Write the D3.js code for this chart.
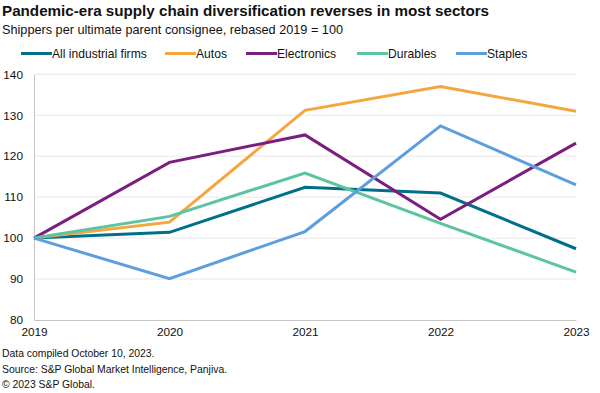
<!DOCTYPE html>
<html>
<head>
<meta charset="utf-8">
<script src="https://cdn.jsdelivr.net/npm/d3@7"></script>
<style>
  body { margin: 0; background: #fff; }
  svg { font-family: "Liberation Sans", Arial, sans-serif; }
</style>
</head>
<body>
<div id="chart"></div>
<script>
// chart data
var years = ["2019", "2020", "2021", "2022", "2023"];
var allFirms = [100, 101.4, 112.4, 111.0, 97.4];
var autos = [100, 103.9, 131.2, 137.0, 131.0];
var electronics = [100, 118.5, 125.2, 104.6, 123.2];
var durables = [100, 105.3, 115.9, 103.6, 91.7];
var staples = [100, 90.1, 101.6, 127.4, 113.0];
var yTicks = [80, 90, 100, 110, 120, 130, 140];

var series = [
  {name: "All industrial firms", values: allFirms, color: "#00708a"},
  {name: "Autos", values: autos, color: "#f4a640"},
  {name: "Electronics", values: electronics, color: "#7a1f80"},
  {name: "Durables", values: durables, color: "#5cc49e"},
  {name: "Staples", values: staples, color: "#5c9fdc"}
];

var width = 600, height = 393;
var plotLeft = 34, plotRight = 576, plotTop = 74.3, plotBottom = 320;

var svg = d3.select("#chart").append("svg")
  .attr("width", width)
  .attr("height", height);

var x = d3.scalePoint().domain(years).range([plotLeft, plotRight]);
var y = d3.scaleLinear().domain([80, 140]).range([plotBottom, plotTop]);

// titles
svg.append("text").attr("x", 2).attr("y", 15.5)
  .attr("font-size", "15.2px").attr("font-weight", "bold").attr("fill", "#111")
  .text("Pandemic-era supply chain diversification reverses in most sectors");
svg.append("text").attr("x", 2).attr("y", 33.5)
  .attr("font-size", "12.7px").attr("fill", "#111")
  .text("Shippers per ultimate parent consignee, rebased 2019 = 100");

// legend
var legendX = [21, 165, 246, 357, 456];
var legend = svg.selectAll(".legend").data(series).enter().append("g")
  .attr("class", "legend")
  .attr("transform", function(d, i) { return "translate(" + legendX[i] + ",53.5)"; });
legend.append("line").attr("x1", 0).attr("x2", 31).attr("y1", 0).attr("y2", 0)
  .attr("stroke", function(d) { return d.color; }).attr("stroke-width", 3);
legend.append("text").attr("x", 31).attr("y", 4.3)
  .attr("font-size", "12.1px").attr("fill", "#111")
  .text(function(d) { return d.name; });

// gridlines
svg.selectAll(".grid").data(yTicks.slice(1)).enter().append("line")
  .attr("x1", plotLeft).attr("x2", plotRight)
  .attr("y1", function(d) { return y(d); }).attr("y2", function(d) { return y(d); })
  .attr("stroke", "#e8e8e8").attr("stroke-width", 1);

// y axis
var yAxis = svg.append("g").attr("transform", "translate(" + plotLeft + ",0)")
  .call(d3.axisLeft(y).tickValues(yTicks).tickSize(0).tickPadding(11));
yAxis.select(".domain").attr("stroke", "#c4c4c4");
yAxis.selectAll("text").attr("font-size", "11.8px").attr("fill", "#111")
  .attr("font-family", "Liberation Sans, Arial, sans-serif");

// x axis
var xAxis = svg.append("g").attr("transform", "translate(0," + plotBottom + ")")
  .call(d3.axisBottom(x).tickSize(0).tickPadding(8));
xAxis.select(".domain").attr("stroke", "#c4c4c4");
xAxis.selectAll("text").attr("font-size", "11.8px").attr("fill", "#111")
  .attr("font-family", "Liberation Sans, Arial, sans-serif");

// lines
var line = d3.line()
  .x(function(d, i) { return x(years[i]); })
  .y(function(d) { return y(d); });

svg.selectAll(".series").data(series).enter().append("path")
  .attr("class", "series")
  .attr("d", function(d) { return line(d.values); })
  .attr("fill", "none")
  .attr("stroke", function(d) { return d.color; })
  .attr("stroke-width", 3)
  .attr("stroke-linejoin", "miter");

// footer
var notes = ["Data compiled October 10, 2023.",
  "Source: S&P Global Market Intelligence, Panjiva.",
  "\u00a9 2023 S&P Global."];
svg.selectAll(".note").data(notes).enter().append("text")
  .attr("x", 2).attr("y", function(d, i) { return 357 + i * 15.5; })
  .attr("font-size", "10.4px").attr("fill", "#111")
  .text(function(d) { return d; });
</script>
</body>
</html>
